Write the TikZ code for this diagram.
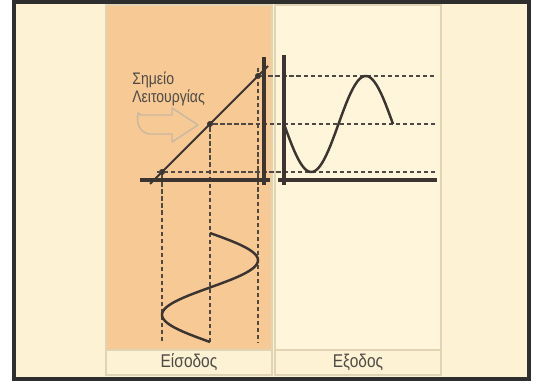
\documentclass[tikz,border=0pt]{standalone}
\usepackage{fontspec}
\setmainfont{Liberation Sans}
\newfontfamily\narrowfont[FakeStretch=0.84]{Liberation Sans}
\usetikzlibrary{arrows.meta}
\definecolor{pagecream}{HTML}{FDF2D3}
\definecolor{panelorange}{HTML}{F6C995}
\definecolor{outcream}{HTML}{FEF5DA}
\definecolor{cellline}{HTML}{E0D4B4}
\definecolor{framegrey}{HTML}{2E2E2E}
\definecolor{inkdark}{HTML}{3B3430}
\definecolor{textgrey}{HTML}{4E4A46}
\definecolor{arrowgrey}{HTML}{C9B9A0}
\tikzset{
  panel/.style={draw=cellline, line width=0.7pt, inner sep=0pt},
  inpanel/.style={panel, fill=panelorange, minimum width=3.32cm, minimum height=6.9cm},
  outpanel/.style={panel, fill=outcream, minimum width=3.32cm, minimum height=6.9cm},
  labelcell/.style={panel, fill=pagecream, minimum width=3.32cm, minimum height=0.5cm,
    font=\narrowfont\fontsize{10.5}{11}\selectfont, text=textgrey},
  axis/.style={draw=inkdark, line width=2pt},
  guide/.style={draw=inkdark!90, line width=0.9pt, dash pattern=on 2.4pt off 1.6pt},
  wave/.style={draw=inkdark, line width=1.4pt},
  opdot/.style={circle, fill=inkdark, inner sep=0pt, minimum size=3.4pt},
}

\begin{document}
\begin{tikzpicture}[x=0.02cm, y=-0.02cm]
    \useasboundingbox (0,0) rectangle (535,381);
    \fill[white] (0,0) rectangle (535,381);
    % frame
    \draw[framegrey, line width=2pt, fill=pagecream] (14,2) rectangle (529,379);
    % columns
    \node[inpanel] (inpanel) at (189,177.5) {};
    \node[outpanel] (outpanel) at (358,177.5) {};
    \node[labelcell] (inlabel) at (189,362.5) {Είσοδος};
    \node[labelcell] (outlabel) at (358,362.5) {Εξοδος};
    % transfer line and operating points
    \coordinate (diagstart) at (150,184);
    \coordinate (diagend) at (268,66);
    \node[opdot] (oplow) at (162,172) {};
    \node[opdot] (opmid) at (210,124) {};
    \node[opdot] (ophigh) at (258,76) {};
    \coordinate (lowend) at (437,172);
    \coordinate (midend) at (437,124);
    \coordinate (highend) at (437,76);
    \coordinate (lowfoot) at (162,343);
    \coordinate (midfoot) at (210,343);
    \coordinate (highfoot) at (258,343);
    \draw[guide] (157,172) -- (lowend);
    \draw[guide] (opmid) -- (midend);
    \draw[guide] (ophigh) -- (highend);
    \draw[guide] (oplow) -- (lowfoot);
    \draw[guide] (opmid) -- (midfoot);
    \draw[guide] (258,68) -- (highfoot);
    \draw[draw=inkdark, line width=1.2pt] (diagstart) -- (diagend);
    % axes
    \draw[axis] (140,180) -- (270,180);
    \draw[axis] (264,57) -- (264,185);
    \draw[axis] (284,55) -- (284,185);
    \draw[axis] (278,180) -- (437,180);
    % signals
    \draw[wave] plot[domain=0:360, samples=73, smooth] ({284+0.30278*\x},{124+48*sin(\x)});
    \draw[wave] plot[domain=0:360, samples=73, smooth] ({210+48*sin(\x)},{233+0.30278*\x});
    % operating point note
    \node[anchor=north west, align=left, text=textgrey, inner sep=0pt,
      font=\narrowfont\fontsize{9.5}{9.8}\selectfont] (opnote) at (132,72) {Σημείο\\Λειτουργίας};
    \draw[arrowgrey, line width=0.8pt, line join=round]
      (141,115) -- (172,115) -- (172,108) -- (198,125) -- (172,142) -- (172,134) -- (150,134)
      .. controls (140,133) and (136,124) .. (138,113) -- cycle;
  \end{tikzpicture}
\end{document}
